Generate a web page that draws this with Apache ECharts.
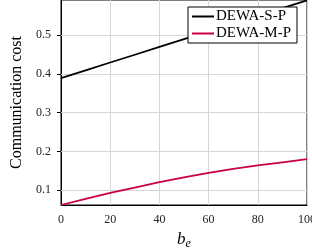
<!DOCTYPE html>
<html>
<head>
<meta charset="utf-8">
<script src="https://cdn.jsdelivr.net/npm/echarts@6/dist/echarts.min.js"></script>
<style>
html, body { margin: 0; padding: 0; background: #fff; }
#main { width: 312px; height: 248px; }
</style>
</head>
<body>
<div id="main"></div>
<script>
// data
var beValues = [0, 10, 20, 30, 40, 50, 60, 70, 80, 90, 100];
var singleCost = [0.389, 0.409, 0.429, 0.449, 0.469, 0.489, 0.509, 0.529, 0.549, 0.569, 0.589];
var multiCost = [0.062, 0.078, 0.093, 0.107, 0.121, 0.133, 0.145, 0.155, 0.164, 0.172, 0.180];
var yTicks = [0.1, 0.2, 0.3, 0.4, 0.5];
var seriesNames = ['DEWA-S-P', 'DEWA-M-P'];

function pairs(xs, ys) {
    return xs.map(function (x, i) { return [x, ys[i]]; });
}

var font = 'Liberation Serif';
var myChart = echarts.init(document.getElementById('main'));

var option = {
    animation: false,
    textStyle: { fontFamily: font },
    grid: {
        left: 61, right: 5, top: 0, bottom: 43,
        outerBoundsMode: 'none',
        containLabel: false,
        show: true, borderColor: '#000', borderWidth: 1, backgroundColor: 'transparent'
    },
    legend: {
        left: 188, top: 7,
        orient: 'vertical',
        data: seriesNames,
        backgroundColor: '#fff',
        borderColor: '#000', borderWidth: 1,
        padding: [2, 6, 2, 4],
        itemGap: 2,
        itemWidth: 22, itemHeight: 2,
        icon: 'rect',
        textStyle: { fontFamily: font, fontSize: 15, color: '#000', padding: [0, 0, 0, -3] }
    },
    xAxis: {
        type: 'value',
        min: 0, max: 100, interval: 20,
        name: '{b|b}{e|e}',
        nameLocation: 'middle',
        nameGap: 22,
        nameTextStyle: {
            rich: {
                b: { fontFamily: font, fontStyle: 'italic', fontSize: 17, color: '#000' },
                e: { fontFamily: font, fontStyle: 'italic', fontSize: 12, color: '#000', padding: [8, 0, 0, 0] }
            }
        },
        axisLine: { lineStyle: { color: '#000', width: 1 } },
        axisTick: { show: false },
        axisLabel: { fontFamily: font, fontSize: 12, color: '#222', margin: 9 },
        splitLine: { lineStyle: { color: '#d6d6d6', width: 1 } }
    },
    yAxis: {
        type: 'value',
        min: 0.062, max: 0.59,
        name: 'Communication cost',
        nameLocation: 'middle',
        nameGap: 35,
        nameTextStyle: { fontFamily: font, fontSize: 16, color: '#000' },
        axisLine: { show: true, lineStyle: { color: '#000', width: 1 } },
        axisTick: { show: true, length: 4, customValues: yTicks, lineStyle: { color: '#000' } },
        axisLabel: { fontFamily: font, fontSize: 12, color: '#222', margin: 10, customValues: yTicks },
        splitLine: { show: false }
    },
    series: [
        {
            name: seriesNames[0],
            type: 'line',
            data: pairs(beValues, singleCost),
            showSymbol: false,
            lineStyle: { color: '#000', width: 1.8 },
            itemStyle: { color: '#000' },
            markLine: {
                silent: true, symbol: 'none', label: { show: false },
                lineStyle: { color: '#d6d6d6', width: 1, type: 'solid' },
                data: yTicks.map(function (v) { return { yAxis: v }; }),
                z: 1
            },
            z: 3
        },
        {
            name: seriesNames[1],
            type: 'line',
            data: pairs(beValues, multiCost),
            showSymbol: false,
            lineStyle: { color: '#c8003f', width: 1.8 },
            itemStyle: { color: '#c8003f' },
            z: 3
        }
    ]
};
myChart.setOption(option);
</script>
</body>
</html>
